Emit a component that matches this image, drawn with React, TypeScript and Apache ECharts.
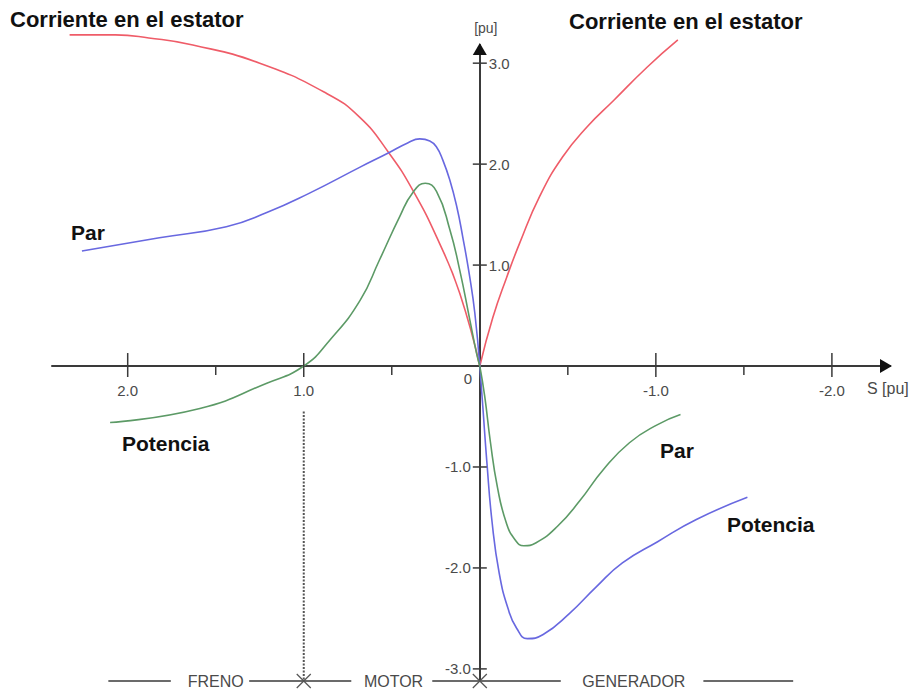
import React, { useEffect, useRef } from "react";
import * as echarts from "echarts";

// Axis extents: slip S [pu] (reversed, positive to the left) and magnitudes [pu]
const slipMin = -2.33;
const slipMax = 2.43;
const puMin = -3.12;
const puMax = 3.18;

const xMajorTicks = [2, 1, -1, -2];
const xMajorLabels = ["2.0", "1.0", "-1.0", "-2.0"];
const xMinorTicks = [1.5, 0.5, -0.5, -1.5];
const yTicks = [3, 2, 1, -1, -2, -3];
const yTickLabels = ["3.0", "2.0", "1.0", "-1.0", "-2.0", "-3.0"];

// Stator current (red)
const currentMotorSide = [
  [2.33, 3.28], [2.07, 3.28], [1.88, 3.25], [1.63, 3.18], [1.25, 3.0], [0.87, 2.7],
  [0.68, 2.46], [0.52, 2.12], [0.38, 1.74], [0.23, 1.22], [0.114, 0.72], [0, 0],
];
const currentGeneratorSide = [
  [0, 0], [-0.074, 0.48], [-0.153, 0.88], [-0.227, 1.22], [-0.34, 1.68], [-0.47, 2.07],
  [-0.61, 2.37], [-0.76, 2.63], [-0.95, 2.96], [-1.125, 3.23],
];

// Blue: torque for s > 0, power for s < 0
const blueMotorSide = [
  [2.26, 1.14], [1.82, 1.27], [1.44, 1.38], [1.21, 1.52], [0.97, 1.71], [0.68, 1.97],
  [0.52, 2.11], [0.41, 2.21], [0.341, 2.25], [0.284, 2.23], [0.246, 2.17], [0.21, 2.04],
  [0.17, 1.84], [0.131, 1.58], [0.097, 1.28], [0.057, 0.88], [0.028, 0.52], [0, 0],
];
const blueGeneratorSide = [
  [0, 0], [-0.017, -0.4], [-0.04, -0.95], [-0.07, -1.55], [-0.11, -2.05], [-0.16, -2.4],
  [-0.21, -2.6], [-0.27, -2.7], [-0.36, -2.66], [-0.51, -2.45], [-0.66, -2.19],
  [-0.81, -1.95], [-1.01, -1.74], [-1.23, -1.52], [-1.52, -1.3],
];

// Green: power for s > 0, torque for s < 0
const greenMotorSide = [
  [2.1, -0.56], [1.59, -0.42], [1.21, -0.17], [1.0, 0], [0.85, 0.26],
  [0.68, 0.65], [0.57, 1.05], [0.455, 1.48], [0.38, 1.72], [0.31, 1.81], [0.246, 1.73],
  [0.17, 1.35], [0.114, 0.95], [0.057, 0.46], [0.019, 0.13], [0, 0],
];
const greenGeneratorSide = [
  [0, 0], [-0.028, -0.3], [-0.06, -0.75], [-0.1, -1.2], [-0.15, -1.55], [-0.2, -1.72],
  [-0.25, -1.78], [-0.32, -1.75], [-0.44, -1.59], [-0.57, -1.33], [-0.7, -1.03],
  [-0.85, -0.76], [-1.01, -0.58], [-1.14, -0.48],
];

// Operating regions along the bottom
const regimeNames = ["FRENO", "MOTOR", "GENERADOR"];
const regimeCenters = [1.5, 0.49, -0.875];
const regimeRules = [[2.11, 1.755], [1.31, 0.73], [0.27, -0.46], [-1.27, -1.78]];
const regimeBounds = [1, 0];
const standstillGuide = [[1, -0.45], [1, puMin]];

const RED = "#ef5c68";
const BLUE = "#6868e0";
const GREEN = "#5c9a66";
const AXIS = "#3a3a3a";
const LABEL = "#4a4a4a";
const FONT = '"Liberation Sans", Arial, sans-serif';

function curve(name: string, data: number[][], color: string) {
  return {
    type: "line",
    name,
    data,
    smooth: 0.5,
    showSymbol: false,
    symbol: "none",
    clip: false,
    silent: true,
    z: 3,
    lineStyle: { color, width: 1.6 },
  };
}

function txt(text: string, x: number, y: number, font: string, fill: string, align = "left") {
  return {
    type: "text",
    x,
    y,
    silent: true,
    style: {
      text,
      font,
      fill,
      align,
      verticalAlign: "middle",
      textAlign: align,
      textVerticalAlign: "middle",
    },
  };
}

export default function App() {
  const ref = useRef<HTMLDivElement>(null);

  useEffect(() => {
    document.body.style.margin = "0";
    if (!ref.current) return;
    const chart = echarts.init(ref.current, null, { renderer: "svg" });

    const option: any = {
      animation: false,
      backgroundColor: "#ffffff",
      grid: { left: 52, right: 25, top: 45, bottom: 11, containLabel: false },
      xAxis: {
        type: "value",
        inverse: true,
        min: slipMin,
        max: slipMax,
        axisLine: { show: true, onZero: true, lineStyle: { color: AXIS, width: 2 } },
        axisTick: { show: false },
        axisLabel: { show: false },
        splitLine: { show: false },
      },
      yAxis: {
        type: "value",
        min: puMin,
        max: puMax,
        axisLine: { show: true, onZero: true, lineStyle: { color: AXIS, width: 2 } },
        axisTick: { show: false },
        axisLabel: { show: false },
        splitLine: { show: false },
      },
      series: [
        curve("Corriente en el estator", currentMotorSide, RED),
        curve("Corriente en el estator", currentGeneratorSide, RED),
        curve("Par", blueMotorSide, BLUE),
        curve("Potencia", blueGeneratorSide, BLUE),
        curve("Potencia", greenMotorSide, GREEN),
        curve("Par", greenGeneratorSide, GREEN),
        {
          type: "line",
          data: standstillGuide,
          showSymbol: false,
          symbol: "none",
          clip: false,
          silent: true,
          z: 2,
          lineStyle: { color: "#555", width: 2, type: [2, 1.5] },
        },
        // x-axis major ticks with labels
        {
          type: "custom",
          coordinateSystem: "cartesian2d",
          silent: true,
          clip: false,
          z: 4,
          data: xMajorTicks.map((v) => [v, 0]),
          renderItem: (params: any, api: any) => {
            const p = api.coord([api.value(0), 0]);
            return {
              type: "group",
              children: [
                { type: "line", shape: { x1: p[0], y1: p[1] - 13, x2: p[0], y2: p[1] + 11 }, style: { stroke: AXIS, lineWidth: 1.5 } },
                txt(xMajorLabels[params.dataIndex], p[0], p[1] + 24, `15px ${FONT}`, LABEL, "center"),
              ],
            };
          },
        },
        // x-axis minor ticks
        {
          type: "custom",
          coordinateSystem: "cartesian2d",
          silent: true,
          clip: false,
          z: 4,
          data: xMinorTicks.map((v) => [v, 0]),
          renderItem: (params: any, api: any) => {
            const p = api.coord([api.value(0), 0]);
            return { type: "line", shape: { x1: p[0], y1: p[1], x2: p[0], y2: p[1] + 9 }, style: { stroke: AXIS, lineWidth: 1.5 } };
          },
        },
        // y-axis ticks, positive labels on the right, negative on the left
        {
          type: "custom",
          coordinateSystem: "cartesian2d",
          silent: true,
          clip: false,
          z: 4,
          data: yTicks.map((v) => [0, v]),
          renderItem: (params: any, api: any) => {
            const v = api.value(1);
            const p = api.coord([0, v]);
            const pos = v > 0;
            return {
              type: "group",
              children: [
                { type: "line", shape: { x1: p[0] - 7, y1: p[1], x2: p[0] + 7, y2: p[1] }, style: { stroke: AXIS, lineWidth: 1.5 } },
                txt(yTickLabels[params.dataIndex], pos ? p[0] + 9 : p[0] - 9, p[1], `15px ${FONT}`, LABEL, pos ? "left" : "right"),
              ],
            };
          },
        },
        // origin label and axis arrows
        {
          type: "custom",
          coordinateSystem: "cartesian2d",
          silent: true,
          clip: false,
          z: 4,
          data: [[0, 0]],
          renderItem: (params: any, api: any) => {
            const o = api.coord([0, 0]);
            const xe = api.coord([slipMin, 0]);
            const ye = api.coord([0, puMax]);
            return {
              type: "group",
              children: [
                txt("0", o[0] - 12, o[1] + 12, `15px ${FONT}`, LABEL, "center"),
                { type: "polygon", shape: { points: [[xe[0] - 10, xe[1] - 7], [xe[0] + 2, xe[1]], [xe[0] - 10, xe[1] + 7]] }, style: { fill: "#111" } },
                { type: "polygon", shape: { points: [[ye[0] - 7, ye[1] + 10], [ye[0], ye[1] - 2], [ye[0] + 7, ye[1] + 10]] }, style: { fill: "#111" } },
                txt("S [pu]", xe[0] - 23, o[1] + 22, `16px ${FONT}`, LABEL, "left"),
                txt("[pu]", ye[0] + 6, ye[1] - 17, `14px ${FONT}`, LABEL, "center"),
              ],
            };
          },
        },
        // operating-region rule along the bottom
        {
          type: "custom",
          coordinateSystem: "cartesian2d",
          silent: true,
          clip: false,
          z: 4,
          data: regimeRules,
          renderItem: (params: any, api: any) => {
            const a = api.coord([api.value(0), puMin]);
            const b = api.coord([api.value(1), puMin]);
            return { type: "line", shape: { x1: a[0], y1: a[1], x2: b[0], y2: b[1] }, style: { stroke: AXIS, lineWidth: 1.6 } };
          },
        },
        {
          type: "custom",
          coordinateSystem: "cartesian2d",
          silent: true,
          clip: false,
          z: 4,
          data: regimeCenters.map((v) => [v, puMin]),
          renderItem: (params: any, api: any) => {
            const p = api.coord([api.value(0), puMin]);
            return txt(regimeNames[params.dataIndex], p[0], p[1], `16px ${FONT}`, LABEL, "center");
          },
        },
        {
          type: "custom",
          coordinateSystem: "cartesian2d",
          silent: true,
          clip: false,
          z: 4,
          data: regimeBounds.map((v) => [v, puMin]),
          renderItem: (params: any, api: any) => {
            const p = api.coord([api.value(0), puMin]);
            const s = { stroke: "#555", lineWidth: 1.2 };
            return {
              type: "group",
              children: [
                { type: "line", shape: { x1: p[0] - 7, y1: p[1] - 7, x2: p[0] + 7, y2: p[1] + 7 }, style: s },
                { type: "line", shape: { x1: p[0] - 7, y1: p[1] + 7, x2: p[0] + 7, y2: p[1] - 7 }, style: s },
              ],
            };
          },
        },
      ],
      graphic: [
        txt("Corriente en el estator", 10, 19, `bold 22px ${FONT}`, "#111"),
        txt("Corriente en el estator", 569, 21, `bold 22px ${FONT}`, "#111"),
        txt("Par", 71, 232, `bold 21px ${FONT}`, "#111"),
        txt("Potencia", 122, 443, `bold 21px ${FONT}`, "#111"),
        txt("Par", 660, 450, `bold 21px ${FONT}`, "#111"),
        txt("Potencia", 727, 524, `bold 21px ${FONT}`, "#111"),
      ],
    };

    chart.setOption(option);
    return () => chart.dispose();
  }, []);

  return <div ref={ref} style={{ width: 915, height: 692 }} />;
}
